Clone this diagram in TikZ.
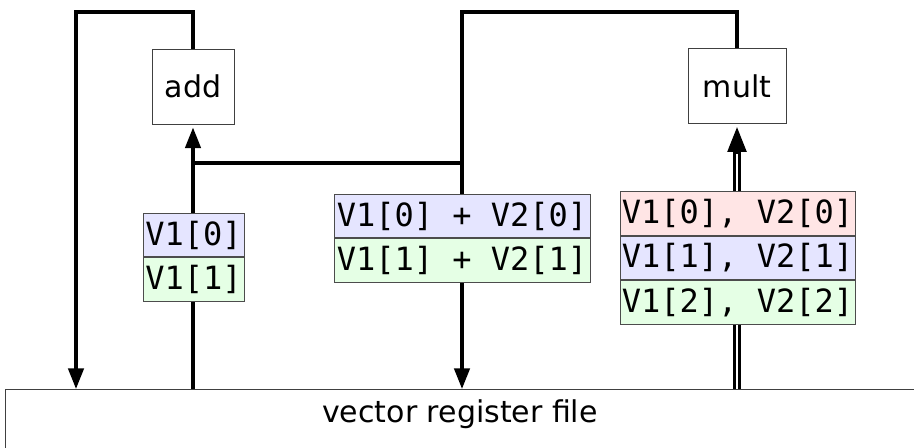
\documentclass[tikz,border=0pt]{standalone}
\usepackage{fontspec}
\setmainfont{DejaVu Sans}
\setmonofont{DejaVu Sans Mono}
\usetikzlibrary{arrows.meta,positioning}
\begin{document}
\begin{tikzpicture}[x=0.75pt,y=-0.75pt,
  unitbox/.style={draw=black!75, line width=0.7pt, fill=white, inner sep=0pt,
    minimum height=56.25pt, font=\fontsize{22.5}{27}\selectfont},
  wire/.style={line width=2.6pt},
  tip/.style={-{Triangle[length=15.5pt,width=11.5pt]}},
  dbl/.style={double, line width=2pt, double distance=1.4pt},
  cell/.style={draw=black!70, line width=0.7pt, inner sep=0pt,
    minimum height=32.6pt, font=\fontsize{24}{28}\selectfont\ttfamily},
  blu/.style={cell, fill=blue!10},
  grn/.style={cell, fill=green!10},
  rd/.style={cell, fill=red!10}]
\useasboundingbox (0,0) rectangle (914,448);

% register file at the bottom
\node[draw=black!75, line width=0.7pt, fill=white, anchor=north west,
  minimum width=697.5pt, minimum height=67.5pt, inner sep=0pt] (rf) at (5,389) {};
\node[font=\fontsize{22.5}{27}\selectfont] (rftext) at (460,414) {vector register file};

% functional units
\node[unitbox, minimum width=61.5pt] (add) at (193,86.5) {add};
\node[unitbox, minimum width=73.5pt] (mult) at (737,86) {mult};

% turn points of the result buses
\coordinate (lt) at (76,12);
\coordinate (mt) at (462,12);
\coordinate (ch) at (193,163);

% add result back to the register file
\draw[wire,tip] (add.north) |- (lt) -- (lt |- rf.north);
% mult result back to the register file
\draw[wire,tip] (mult.north) |- (mt) -- (mt |- rf.north);
% chaining: mult result forwarded into add
\draw[wire] (mt |- ch) -- (ch);
% operand into add
\draw[wire,tip,shorten >=2.25pt] (add.south |- rf.north) -- (add.south);
% paired operands into mult
\coordinate (mtip) at ([yshift=-2.25pt]mult.south);
\coordinate (mbase) at ([yshift=-20pt]mtip);
\coordinate (mdbl) at ([yshift=-17pt]mtip);
\draw[dbl] (mult.south |- rf.north) -- (mdbl);
\draw[wire,-{Triangle[length=18.75pt,width=14pt]}] (mbase) -- (mtip);

% elements in flight
\node[blu, minimum width=75.75pt] (l0) at (193.5,235) {V1[0]};
\node[grn, minimum width=75.75pt, below=0pt of l0] (l1) {V1[1]};

\node[blu, minimum width=192pt] (m0) at (462,216) {V1[0] + V2[0]};
\node[grn, minimum width=192pt, below=0pt of m0] (m1) {V1[1] + V2[1]};

\node[rd, minimum width=176.25pt] (r0) at (737.5,213.5) {V1[0], V2[0]};
\node[blu, minimum width=176.25pt, below=0pt of r0] (r1) {V1[1], V2[1]};
\node[grn, minimum width=176.25pt, below=0pt of r1] (r2) {V1[2], V2[2]};
\end{tikzpicture}
\end{document}
